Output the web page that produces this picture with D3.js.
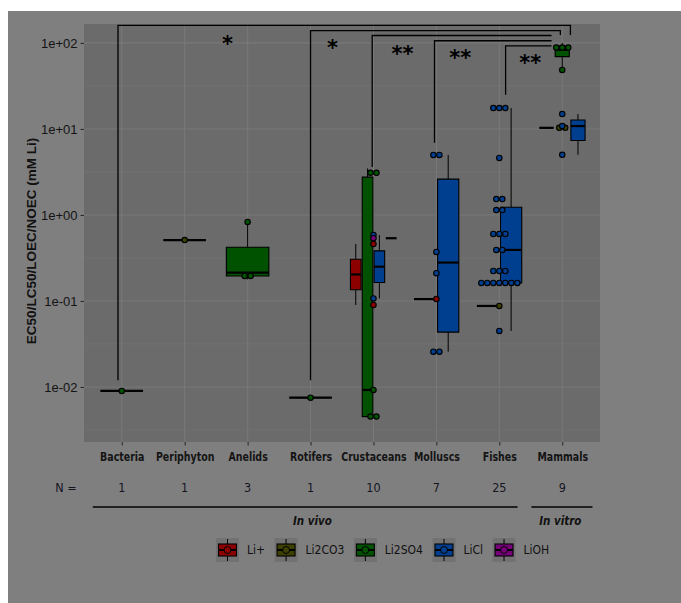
<!DOCTYPE html>
<html>
<head>
<meta charset="utf-8">
<script src="https://cdn.jsdelivr.net/npm/d3@7"></script>
<style>
body { margin: 0; background: #fff; }
</style>
</head>
<body>
<svg id="chart" width="681" height="603"></svg>
<script>
// categories, compounds and colours
const categories = ["Bacteria", "Periphyton", "Anelids", "Rotifers", "Crustaceans", "Molluscs", "Fishes", "Mammals"];
const compounds = ["Li+", "Li2CO3", "Li2SO4", "LiCl", "LiOH"];
const compoundColors = ["#8c0000", "#3e4000", "#005200", "#003f8f", "#760078"];

// values (mM Li) per category and compound
const bacteria = [["Li2SO4", [0.009]]];
const periphyton = [["Li2CO3", [0.51]]];
const anelids = [["Li2SO4", [0.178, 0.214, 0.83]]];
const rotifers = [["Li2SO4", [0.0075]]];
const crustaceans = [
    ["Li+", [0.46, 0.0897]],
    ["Li2SO4", [0.00452, 0.00452, 0.00923, 2.75, 3.47]],
    ["LiCl", [0.585, 0.107]],
    ["LiOH", [0.536]]
];
const molluscs = [
    ["Li+", [0.105]],
    ["LiCl", [0.0257, 0.0257, 0.21, 0.372, 4.99, 4.99]]
];
const fishes = [
    ["Li2CO3", [0.0875]],
    ["LiCl", [0.0448, 0.162, 0.162, 0.162, 0.162, 0.162, 0.162, 0.162, 0.223, 0.223, 0.223,
        0.392, 0.392, 0.601, 0.601, 0.601, 1.14, 1.14, 1.53, 1.53, 4.6, 17.5, 17.5, 17.5]]
];
const mammals = [
    ["Li2CO3", [10.3, 10.3]],
    ["Li2SO4", [48.5, 78, 89.1, 100]],
    ["LiCl", [14.9, 10.8, 5.0]]
];
const groupsByCategory = [bacteria, periphyton, anelids, rotifers, crustaceans, molluscs, fishes, mammals];

// axis ticks
const yTicks = [0.01, 0.1, 1, 10, 100];
const yTickLabels = ["1e-02", "1e-01", "1e+00", "1e+01", "1e+02"];
const yMinor = [-2.5, -1.5, -0.5, 0.5, 1.5];

// significance brackets (x in category units, y in mM)
const brackets = [
    {from: -0.06, to: 7.13, level: 160, fromEnd: 0.012, toEnd: 124},
    {from: 3.0, to: 6.97, level: 139, fromEnd: 0.012, toEnd: 124},
    {from: 3.98, to: 6.83, level: 122, fromEnd: 3.6, toEnd: null},
    {from: 4.97, to: 6.83, level: 106, fromEnd: 6.9, toEnd: null},
    {from: 6.1, to: 6.83, level: 92.5, fromEnd: 25, toEnd: null}
];
const stars = [["*", 1.68, 108], ["*", 3.35, 97.6], ["**", 4.46, 83], ["**", 5.38, 74.5], ["**", 6.49, 65]];
const studyGroups = [["In vivo", -0.46, 6.29, 3.03], ["In vitro", 6.51, 7.48, 6.97]];

const width = 681, height = 603;
const panel = {left: 84, right: 600, top: 24, bottom: 442};
const condensed = "'DejaVu Sans Condensed', 'DejaVu Sans', sans-serif";
const svg = d3.select("#chart");

svg.append("rect")
    .attr("x", 8).attr("y", 11)
    .attr("width", width - 8).attr("height", height - 11)
    .attr("fill", "#7f7f7f");

svg.append("rect")
    .attr("x", panel.left).attr("y", panel.top)
    .attr("width", panel.right - panel.left).attr("height", panel.bottom - panel.top)
    .attr("fill", "#6b6b6b");

const x = d3.scalePoint()
    .domain(categories)
    .range([panel.left, panel.right])
    .padding(0.6);
const step = x.step();
const xPos = i => x(categories[0]) + i * step;

const y = d3.scaleLog()
    .domain([Math.pow(10, -2.64), Math.pow(10, 2.22)])
    .range([panel.bottom, panel.top]);
const ly = v => y(Math.pow(10, v));

// grid
const grid = svg.append("g");
grid.selectAll("line.minor")
    .data(yMinor)
    .enter().append("line")
    .attr("x1", panel.left).attr("x2", panel.right)
    .attr("y1", d => ly(d)).attr("y2", d => ly(d))
    .attr("stroke", "#737373").attr("stroke-width", 0.7);
grid.selectAll("line.major")
    .data(yTicks)
    .enter().append("line")
    .attr("x1", panel.left).attr("x2", panel.right)
    .attr("y1", d => y(d)).attr("y2", d => y(d))
    .attr("stroke", "#787878").attr("stroke-width", 1.1);
grid.selectAll("line.vert")
    .data(categories)
    .enter().append("line")
    .attr("x1", d => x(d)).attr("x2", d => x(d))
    .attr("y1", panel.top).attr("y2", panel.bottom)
    .attr("stroke", "#787878").attr("stroke-width", 1.1);

// axes
const yAxis = svg.append("g")
    .attr("transform", "translate(" + panel.left + ",0)")
    .call(d3.axisLeft(y).tickValues(yTicks).tickFormat((d, i) => yTickLabels[i]).tickSize(3.5).tickPadding(3));
yAxis.select(".domain").remove();
yAxis.selectAll("line").attr("stroke", "#262626");
yAxis.selectAll("text")
    .attr("fill", "#141414")
    .style("font-family", "'Liberation Sans', Arial, sans-serif")
    .style("font-size", "13px");

const xAxis = svg.append("g")
    .attr("transform", "translate(0," + panel.bottom + ")")
    .call(d3.axisBottom(x).tickSize(3.5).tickPadding(7));
xAxis.select(".domain").remove();
xAxis.selectAll("line").attr("stroke", "#262626");
xAxis.selectAll("text")
    .attr("fill", "#141414")
    .attr("transform", "scale(0.84,1)")
    .style("font-family", condensed)
    .style("font-weight", "bold")
    .style("font-size", "12.5px");

svg.append("text")
    .attr("transform", "translate(36," + ((panel.top + panel.bottom) / 2 + 8) + ") rotate(-90)")
    .attr("text-anchor", "middle")
    .attr("fill", "#111")
    .style("font-family", "'Liberation Sans', Arial, sans-serif")
    .style("font-weight", "bold")
    .style("font-size", "13.5px")
    .text("EC50/LC50/LOEC/NOEC (mM Li)");

// box statistics computed on log10 values (scale_y_log10 style)
function boxStats(vals) {
    const l = vals.map(Math.log10).sort(d3.ascending);
    const q1 = d3.quantileSorted(l, 0.25);
    const med = d3.quantileSorted(l, 0.5);
    const q3 = d3.quantileSorted(l, 0.75);
    const iqr = q3 - q1;
    const lo = d3.min(l.filter(v => v >= q1 - 1.5 * iqr));
    const hi = d3.max(l.filter(v => v <= q3 + 1.5 * iqr));
    return {q1: q1, med: med, q3: q3, lo: lo, hi: hi};
}

// dot density binning on log10 values
function dotBins(vals, bw) {
    const l = vals.map(Math.log10).sort(d3.ascending);
    const bins = [];
    let cur = null;
    l.forEach(v => {
        if (cur && v < cur.start + bw) {
            cur.items.push(v);
        } else {
            cur = {start: v, items: [v]};
            bins.push(cur);
        }
    });
    return bins.map(b => ({center: (b.items[0] + b.items[b.items.length - 1]) / 2, n: b.items.length}));
}

const colorOf = c => compoundColors[compounds.indexOf(c)];
const dodgeWidth = 0.75 * step;
const boxes = svg.append("g");
const dots = svg.append("g");
const dotR = 2.7;
const dotGap = 6;

groupsByCategory.forEach((groups, i) => {
    const cx = xPos(i);
    const n = groups.length;
    const slot = dodgeWidth / n;
    groups.forEach((g, k) => {
        const s = boxStats(g[1]);
        const bx = cx - dodgeWidth / 2 + slot * (k + 0.5);
        const bw = slot * 0.9;
        // whiskers
        boxes.append("line")
            .attr("x1", bx).attr("x2", bx)
            .attr("y1", ly(s.q3)).attr("y2", ly(s.hi))
            .attr("stroke", "#000").attr("stroke-width", 1);
        boxes.append("line")
            .attr("x1", bx).attr("x2", bx)
            .attr("y1", ly(s.q1)).attr("y2", ly(s.lo))
            .attr("stroke", "#000").attr("stroke-width", 1);
        boxes.append("path")
            .attr("d", "M" + (bx - bw / 2) + "," + ly(s.q3) + "H" + (bx + bw / 2) + "V" + ly(s.q1) + "H" + (bx - bw / 2) + "Z")
            .attr("fill", colorOf(g[0]))
            .attr("stroke", "#000").attr("stroke-width", 1.1);
        boxes.append("line")
            .attr("x1", bx - bw / 2).attr("x2", bx + bw / 2)
            .attr("y1", ly(s.med)).attr("y2", ly(s.med))
            .attr("stroke", "#000").attr("stroke-width", 2.2);
    });
    groups.forEach(g => {
        dotBins(g[1], 0.115).forEach(b => {
            for (let j = 0; j < b.n; j++) {
                dots.append("circle")
                    .attr("cx", cx + (j - (b.n - 1) / 2) * dotGap)
                    .attr("cy", ly(b.center))
                    .attr("r", dotR)
                    .attr("fill", colorOf(g[0]))
                    .attr("stroke", "#000").attr("stroke-width", 1.1);
            }
        });
    });
});

// significance brackets
const ann = svg.append("g");
brackets.forEach(b => {
    let d = "M" + xPos(b.from) + "," + y(b.fromEnd) + "V" + y(b.level) + "H" + xPos(b.to);
    if (b.toEnd) d += "V" + y(b.toEnd);
    ann.append("path")
        .attr("d", d)
        .attr("fill", "none")
        .attr("stroke", "#000").attr("stroke-width", 1.3);
});
stars.forEach(s => {
    ann.append("text")
        .attr("x", xPos(s[1]))
        .attr("y", y(s[2]) + 11)
        .attr("text-anchor", "middle")
        .attr("fill", "#000")
        .style("font-family", "'DejaVu Sans', sans-serif")
        .style("font-weight", "bold")
        .style("font-size", "21px")
        .text(s[0]);
});

// N row
const counts = groupsByCategory.map(gs => d3.sum(gs, g => g[1].length));
const nRow = svg.append("g")
    .style("font-family", condensed)
    .style("font-size", "12.5px")
    .attr("fill", "#15151f");
nRow.append("text").attr("x", 66).attr("y", 492).attr("text-anchor", "middle").text("N =");
nRow.selectAll("text.count")
    .data(counts)
    .enter().append("text")
    .attr("x", (d, i) => xPos(i))
    .attr("y", 492)
    .attr("text-anchor", "middle")
    .text(d => d);

// in vivo / in vitro
studyGroups.forEach(g => {
    svg.append("line")
        .attr("x1", xPos(g[1])).attr("x2", xPos(g[2]))
        .attr("y1", 507).attr("y2", 507)
        .attr("stroke", "#000").attr("stroke-width", 1.5);
    svg.append("text")
        .attr("x", xPos(g[3])).attr("y", 525)
        .attr("text-anchor", "middle")
        .attr("fill", "#111")
        .style("font-family", condensed)
        .style("font-weight", "bold")
        .style("font-style", "italic")
        .style("font-size", "11.5px")
        .text(g[0]);
});

// legend
const legend = svg.append("g");
let lx = 216;
const ly0 = 538;
compounds.forEach((c, i) => {
    const key = legend.append("g").attr("transform", "translate(" + lx + "," + ly0 + ")");
    key.append("rect").attr("width", 23).attr("height", 24).attr("fill", "#727272");
    key.append("line").attr("x1", 11.5).attr("x2", 11.5).attr("y1", 1).attr("y2", 23)
        .attr("stroke", "#000").attr("stroke-width", 1);
    key.append("rect").attr("x", 2.5).attr("y", 6).attr("width", 18).attr("height", 12)
        .attr("fill", compoundColors[i]).attr("stroke", "#000").attr("stroke-width", 1.1);
    key.append("line").attr("x1", 2.5).attr("x2", 20.5).attr("y1", 12).attr("y2", 12)
        .attr("stroke", "#000").attr("stroke-width", 2);
    key.append("circle").attr("cx", 11.5).attr("cy", 12).attr("r", 3.5)
        .attr("fill", compoundColors[i]).attr("stroke", "#000").attr("stroke-width", 1);
    const t = legend.append("text")
        .attr("x", lx + 31).attr("y", ly0 + 16)
        .attr("fill", "#111")
        .style("font-family", condensed)
        .style("font-size", "12px")
        .text(c);
    lx += 31 + t.node().getComputedTextLength() + 9.5;
});
</script>
</body>
</html>
